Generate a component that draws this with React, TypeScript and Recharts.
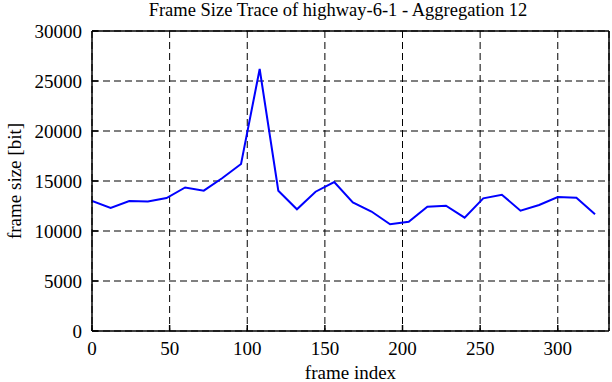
import { LineChart, Line, XAxis, YAxis, CartesianGrid } from "recharts";

// aggregated frame index (every 12 frames)
const frameIndex = [
  0, 12, 24, 36, 48, 60, 72, 84, 96, 108, 120, 132, 144, 156,
  168, 180, 192, 204, 216, 228, 240, 252, 264, 276, 288, 300, 312, 324,
];
const frameSize = [
  13000, 12300, 13000, 12950, 13300, 14350, 14030, 15300, 16700, 26200, 14030, 12170, 13930, 14900,
  12850, 11950, 10670, 10930, 12430, 12530, 11330, 13270, 13630, 12030, 12600, 13400, 13330, 11670,
];
const xTicks = [0, 50, 100, 150, 200, 250, 300];
const yTicks = [0, 5000, 10000, 15000, 20000, 25000, 30000];

const data = frameIndex.map((x, i) => ({ x, size: frameSize[i] }));

const font = "'Liberation Serif', 'Times New Roman', serif";
const textStyle = { fontFamily: font, fontSize: 19, fill: "#000" };
const tickStyle = { fontFamily: font, fontSize: 19, fill: "#000" };

const App = () => {
  return (
    <div style={{ position: "absolute", left: 0, top: 0, width: 612, height: 382, background: "#fff", fontFamily: font }}>
      <LineChart
        width={612}
        height={382}
        data={data}
        margin={{ top: 30, right: 0, bottom: 0, left: 0 }}
      >
        <text x={338} y={16} textAnchor="middle" style={{ ...textStyle, fontSize: 18.5 }}>
          Frame Size Trace of highway-6-1 - Aggregation 12
        </text>
        <CartesianGrid stroke="#000" strokeDasharray="7 4" strokeWidth={1} />
        <XAxis
          dataKey="x"
          type="number"
          domain={[0, 333]}
          ticks={xTicks}
          allowDataOverflow
          height={51}
          tickSize={-6}
          tickMargin={17}
          stroke="#000"
          strokeWidth={1.5}
          tick={tickStyle}
          label={{ value: "frame index", position: "insideBottom", offset: 3, style: textStyle }}
        />
        <XAxis
          xAxisId="top"
          dataKey="x"
          type="number"
          orientation="top"
          domain={[0, 333]}
          ticks={xTicks}
          allowDataOverflow
          height={1}
          tickSize={-6}
          tick={false}
          stroke="#000"
          strokeWidth={1.5}
        />
        <YAxis
          type="number"
          domain={[0, 30000]}
          ticks={yTicks}
          width={92}
          tickSize={-6}
          tickMargin={16}
          stroke="#000"
          strokeWidth={1.5}
          tick={tickStyle}
          label={{ value: "frame size [bit]", angle: -90, position: "insideLeft", offset: 14, style: { ...textStyle, textAnchor: "middle" } }}
        />
        <YAxis
          yAxisId="right"
          type="number"
          orientation="right"
          domain={[0, 30000]}
          ticks={yTicks}
          width={3}
          tickSize={-6}
          tick={false}
          stroke="#000"
          strokeWidth={1.5}
        />
        <Line
          dataKey="size"
          type="linear"
          stroke="#0000ff"
          strokeWidth={2}
          dot={false}
          isAnimationActive={false}
        />
      </LineChart>
    </div>
  );
};

export default App;
